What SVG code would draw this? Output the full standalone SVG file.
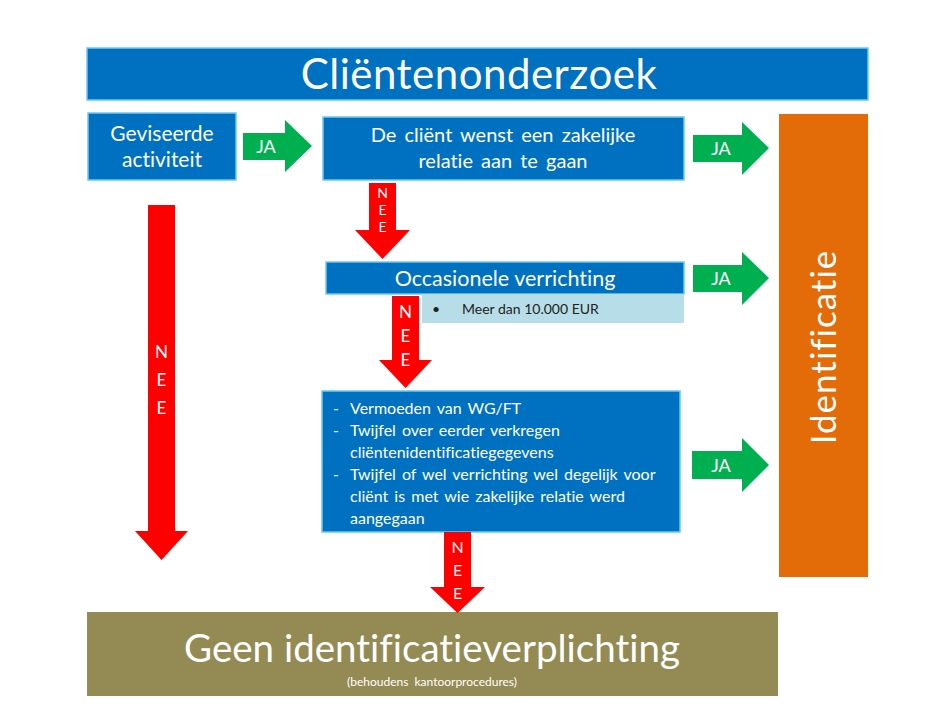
<svg xmlns="http://www.w3.org/2000/svg" width="944" height="708" viewBox="0 0 944 708">
<style>
.blue{fill:#0070C0;stroke:#6CC9F0;stroke-width:1.5}
.t{font-family:Lato,"Open Sans","Liberation Sans",sans-serif;fill:#fff;font-variant-ligatures:none}
.d{font-family:Lato,"Open Sans","Liberation Sans",sans-serif;fill:#222}
.ja{fill:#00B050}
.nee{fill:#FF0000}
</style>
<rect width="944" height="708" fill="#fff"/>
<g id="title">
<rect x="87" y="48" width="781" height="52" class="blue"/>
<text x="479" y="89" class="t" font-size="42" letter-spacing="0.5" text-anchor="middle">Cliëntenonderzoek</text>
</g>
<g id="geviseerde">
<rect x="88" y="113" width="148" height="67" class="blue"/>
<text x="162" y="141" class="t" font-size="21" text-anchor="middle">Geviseerde</text>
<text x="162" y="167" class="t" font-size="21" text-anchor="middle">activiteit</text>
</g>
<g id="zakelijke">
<rect x="323" y="117" width="361" height="63" class="blue"/>
<text x="503" y="142" class="t" font-size="20" word-spacing="3" text-anchor="middle">De cliënt wenst een zakelijke</text>
<text x="503" y="168" class="t" font-size="20" word-spacing="3" text-anchor="middle">relatie aan te gaan</text>
</g>
<g id="occasionele">
<rect x="326" y="262" width="358" height="32" class="blue"/>
<text x="505" y="286" class="t" font-size="21.5" text-anchor="middle">Occasionele verrichting</text>
<rect x="422" y="294" width="262" height="29" fill="#B7DEE8"/>
<text x="432" y="314" class="d" font-size="14">•</text>
<text x="462" y="314" class="d" font-size="14">Meer dan 10.000 EUR</text>
</g>
<g id="twijfel">
<rect x="322" y="391" width="358" height="141" class="blue"/>
<g class="t" font-size="16" word-spacing="2">
<text x="333" y="414">-</text><text x="350" y="414">Vermoeden van WG/FT</text>
<text x="333" y="436">-</text><text x="350" y="436">Twijfel over eerder verkregen</text>
<text x="350" y="458">cliëntenidentificatiegegevens</text>
<text x="333" y="480">-</text><text x="350" y="480">Twijfel of wel verrichting wel degelijk voor</text>
<text x="350" y="502">cliënt is met wie zakelijke relatie werd</text>
<text x="350" y="524">aangegaan</text>
</g>
</g>
<g id="identificatie">
<rect x="779" y="114" width="89" height="463" fill="#E36C09"/>
<text transform="translate(836,347) rotate(-90)" class="t" font-size="35" letter-spacing="1" text-anchor="middle">Identificatie</text>
</g>
<g id="geen">
<rect x="87" y="612" width="691" height="84" fill="#948A54"/>
<text x="432" y="662" class="t" font-size="38.5" text-anchor="middle">Geen identificatieverplichting</text>
<text x="432" y="686" class="t" font-size="12" word-spacing="3" text-anchor="middle">(behoudens kantoorprocedures)</text>
</g>
<g id="connectors">
<path class="ja" d="M243 133H285V120L312 146L285 172V160H243Z"/>
<text x="266" y="153" class="t" font-size="18" text-anchor="middle">JA</text>
<path class="ja" d="M693 135H742V122L769 148L742 175V162H693Z"/>
<text x="721" y="155" class="t" font-size="18" text-anchor="middle">JA</text>
<path class="ja" d="M693 265H742V252L769 278L742 305V292H693Z"/>
<text x="721" y="285" class="t" font-size="18" text-anchor="middle">JA</text>
<path class="ja" d="M692 451H742V438L769 465L742 492V479H692Z"/>
<text x="721" y="472" class="t" font-size="18" text-anchor="middle">JA</text>
<path class="nee" d="M369 183H396V230H410L382.5 259L355 230H369Z"/>
<g class="t" font-size="14" text-anchor="middle"><text x="382.5" y="198">N</text><text x="382.5" y="215">E</text><text x="382.5" y="232">E</text></g>
<path class="nee" d="M392 296H419V360H432L405.5 388L379 360H392Z"/>
<g class="t" font-size="17" text-anchor="middle"><text x="405.5" y="318">N</text><text x="405.5" y="342">E</text><text x="405.5" y="366">E</text></g>
<path class="nee" d="M444 532H471V587H485L457.5 613L430 587H444Z"/>
<g class="t" font-size="16" text-anchor="middle"><text x="457.5" y="553">N</text><text x="457.5" y="576">E</text><text x="457.5" y="599">E</text></g>
<path class="nee" d="M148 205H175V531H188L161.5 560L135 531H148Z"/>
<g class="t" font-size="17" text-anchor="middle"><text x="161.5" y="358">N</text><text x="161.5" y="386">E</text><text x="161.5" y="414">E</text></g>
</g>
</svg>
